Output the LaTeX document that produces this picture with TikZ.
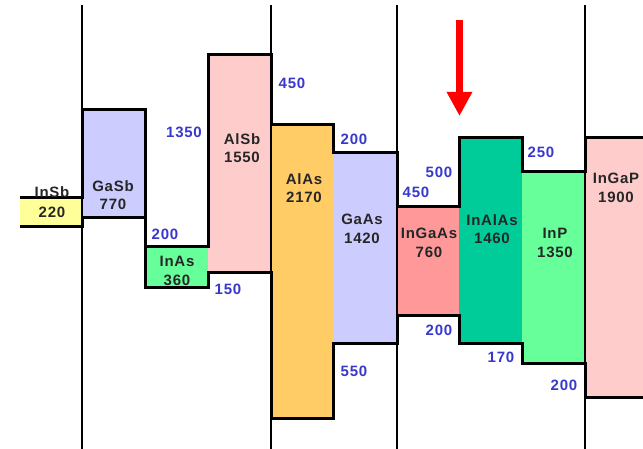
\documentclass[tikz,border=0pt]{standalone}
\usepackage{fontspec}
\setmainfont{Liberation Sans}[LetterSpace=5]
\usepackage{xcolor}
\usetikzlibrary{arrows.meta}

\definecolor{cYellow}{HTML}{FFFF99}
\definecolor{cLavender}{HTML}{CCCCFF}
\definecolor{cGreen}{HTML}{66FF99}
\definecolor{cPink}{HTML}{FFCCCC}
\definecolor{cOrange}{HTML}{FFCC66}
\definecolor{cSalmon}{HTML}{FF9999}
\definecolor{cTeal}{HTML}{00CC99}
\definecolor{cOffset}{HTML}{3838CC}

\begin{document}
\begin{tikzpicture}[
    x=1pt, y=-1pt,
    material/.style={
        align=center,
        inner sep=0pt,
        font=\fontsize{15}{18.5}\selectfont\bfseries,
        text=black!85
    },
    offset/.style={
        inner sep=0pt,
        font=\fontsize{15}{16}\selectfont\bfseries,
        text=cOffset
    },
    band/.style={line width=3pt, line join=miter},
    divider/.style={line width=2pt},
    redarrow/.style={-{Triangle[width=24pt,length=24pt]}, line width=7.5pt, red}
]
\useasboundingbox (0,0) rectangle (643,449);

% Band fills
\fill[cYellow]   (20,198) rectangle (82,227);
\fill[cLavender] (82,110) rectangle (145,218);
\fill[cGreen]    (145,247) rectangle (208,288);
\fill[cPink]     (208,55) rectangle (271,273);
\fill[cOrange]   (271,125) rectangle (333,418);
\fill[cLavender] (333,153) rectangle (397,343);
\fill[cSalmon]   (397,207) rectangle (459,316);
\fill[cTeal]     (459,138) rectangle (522,343);
\fill[cGreen]    (522,172) rectangle (585,363);
\fill[cPink]     (585,138) rectangle (643,397);

% Conduction band edge
\draw[band] (20,198) -- (82,198) -- (82,110) -- (145,110) -- (145,247)
    -- (208,247) -- (208,55) -- (271,55) -- (271,125) -- (333,125)
    -- (333,153) -- (397,153) -- (397,207) -- (459,207) -- (459,138)
    -- (522,138) -- (522,172) -- (585,172) -- (585,138) -- (643,138);

% Valence band edge
\draw[band] (20,227) -- (82,227) -- (82,218) -- (145,218) -- (145,288)
    -- (208,288) -- (208,273) -- (271,273) -- (271,418) -- (333,418)
    -- (333,343) -- (397,343) -- (397,316) -- (459,316) -- (459,343)
    -- (522,343) -- (522,363) -- (585,363) -- (585,397) -- (643,397);

% Lattice groups
\foreach \x in {82,271,397,585}
    \draw[divider] (\x,5) -- (\x,449);

% Materials
\node[material] (insb) at (52,192) {InSb};
\node[material] (insbgap) at (52,212) {220};
\node[material] (gasb) at (113,195) {GaSb\\770};
\node[material] (inas) at (177,271) {InAs\\360};
\node[material] (alsb) at (242,148) {AlSb\\1550};
\node[material] (alas) at (304,188) {AlAs\\2170};
\node[material] (gaas) at (362,229) {GaAs\\1420};
\node[material] (ingaas) at (429,243) {InGaAs\\760};
\node[material] (inalas) at (492,229) {InAlAs\\1460};
\node[material] (inp) at (555,243) {InP\\1350};
\node[material] (ingap) at (616,188) {InGaP\\1900};

% Band offsets
\node[offset] (off-gasb-c) at (184,132) {1350};
\node[offset] (off-inas-c) at (165,234) {200};
\node[offset] (off-alsb-v) at (228,289) {150};
\node[offset] (off-alsb-c) at (292,83) {450};
\node[offset] (off-alas-c) at (354,139) {200};
\node[offset] (off-alas-v) at (354,371) {550};
\node[offset] (off-gaas-c) at (416,192) {450};
\node[offset] (off-ingaas-c) at (439,172) {500};
\node[offset] (off-ingaas-v) at (439,330) {200};
\node[offset] (off-inalas-c) at (541,152) {250};
\node[offset] (off-inalas-v) at (501,357) {170};
\node[offset] (off-inp-v) at (564,385) {200};

% Marker
\coordinate (arrowtop) at (459.5,20);
\coordinate (arrowtip) at (459.5,116);
\draw[redarrow] (arrowtop) -- (arrowtip);

\end{tikzpicture}
\end{document}
